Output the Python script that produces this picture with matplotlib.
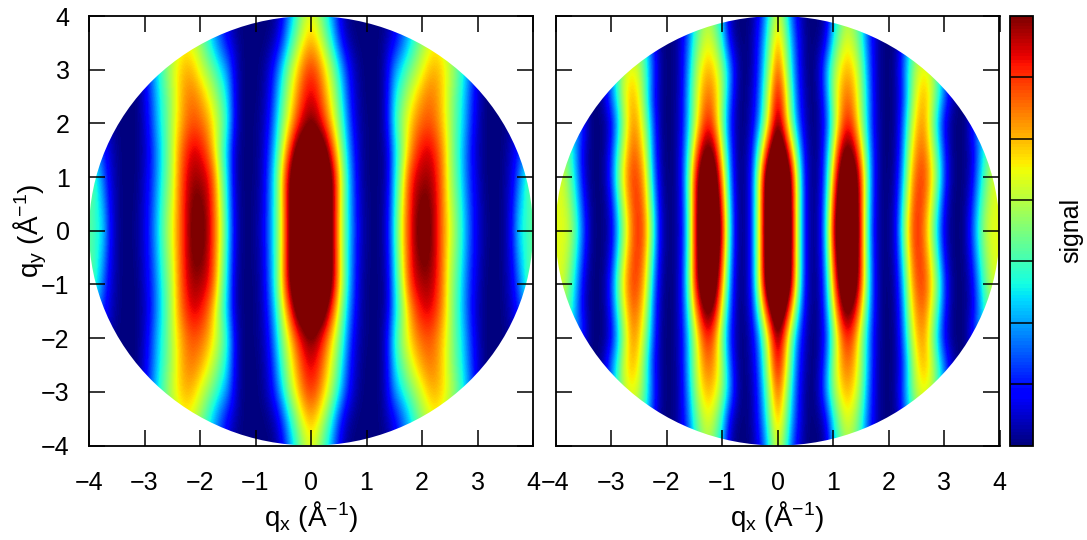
import numpy as np
import matplotlib
matplotlib.use("Agg")
import matplotlib.pyplot as plt
from matplotlib.patches import Circle

plt.rcParams["font.family"] = ["Liberation Sans", "DejaVu Sans"]
plt.rcParams["mathtext.fontset"] = "custom"
plt.rcParams["mathtext.rm"] = "Liberation Sans"
plt.rcParams["mathtext.default"] = "rm"
plt.rcParams["font.size"] = 18

# signal read off the upper right quadrant, qx = 0, 0.125 ... 4
# one row per qy = 0, 0.5 ... 4, the other quadrants are mirror images
left_y00 = [1.45,1.38,1.20,1.03,.72,.44,.24,.08,.02,0,.01,.10,.37,.63,.83,.98,1.05,1.03,.92,.78,.64,.50,.35,.20,.08,.03,0,0,.03,.14,.35,.41,.45]
left_y05 = [1.42,1.36,1.19,1.03,.73,.44,.23,.07,.02,0,.01,.08,.35,.60,.82,.96,1.02,1.01,.92,.78,.61,.48,.33,.18,.08,.02,0,0,.03,.12,.30,.40,.48]
left_y10 = [1.38,1.32,1.18,1.02,.74,.44,.22,.06,.01,0,.01,.06,.33,.55,.80,.92,.96,.97,.90,.77,.58,.45,.30,.16,.07,.01,0,0,.03,.09,.24,.40,.50]
left_y15 = [1.20,1.15,1.06,.86,.62,.38,.18,.05,.01,0,.01,.06,.30,.48,.68,.82,.90,.92,.86,.75,.58,.43,.29,.15,.05,.01,0,0,.02,.07,.16,.26,.35]
left_y20 = [1.00,.95,.84,.68,.52,.32,.13,.04,.01,0,.01,.12,.38,.53,.65,.75,.80,.82,.78,.69,.57,.44,.33,.18,.07,.01,0,0,.01,.04,.10,.16,.24]
left_y25 = [.92,.87,.75,.61,.45,.26,.10,.03,0,0,.01,.11,.34,.46,.57,.66,.74,.78,.76,.68,.56,.45,.34,.20,.08,.01,0,0,0,.01,.03,.06,.10]
left_y30 = [.85,.80,.68,.55,.38,.20,.08,.02,0,0,.01,.10,.26,.36,.46,.54,.62,.70,.72,.68,.60,.50,.38,.24,.10,.02,0,0,0,0,0,0,0]
left_y35 = [.72,.66,.53,.38,.20,.07,.02,0,0,0,.01,.05,.11,.20,.30,.42,.52,.60,.64,.60,.52,.42,.32,.20,.10,.02,0,0,0,0,0,0,0]
left_y40 = [.62,.55,.42,.28,.12,.03,0,0,0,0,0,.02,.08,.18,.28,.38,.46,.52,.55,.52,.44,.36,.26,.15,.05,0,0,0,0,0,0,0,0]

right_y00 = [1.50,1.35,.97,.50,.10,.01,.06,.40,.92,1.20,1.30,1.18,.87,.38,.08,.01,.01,.10,.45,.75,.88,.78,.58,.32,.08,.01,0,.03,.20,.42,.58,.63,.62]
right_y05 = [1.45,1.31,.96,.50,.10,.01,.05,.36,.85,1.15,1.26,1.16,.86,.40,.09,.01,.01,.08,.38,.70,.86,.82,.65,.40,.12,.01,0,.02,.15,.36,.53,.62,.62]
right_y10 = [1.40,1.27,.95,.49,.10,.01,.04,.30,.75,1.08,1.20,1.12,.85,.42,.10,.01,0,.06,.30,.65,.82,.85,.72,.50,.20,.03,0,.01,.09,.30,.48,.60,.62]
right_y15 = [1.20,1.03,.72,.35,.08,.01,.03,.25,.60,.93,1.05,.95,.70,.36,.10,.01,0,.04,.25,.58,.76,.80,.65,.42,.16,.02,0,.01,.08,.25,.42,.55,.60]
right_y20 = [1.00,.78,.47,.20,.05,0,.03,.18,.48,.74,.88,.78,.55,.30,.08,.01,0,.03,.22,.50,.70,.75,.58,.32,.10,.01,0,.01,.15,.30,.40,.50,.55]
right_y25 = [.92,.72,.42,.16,.04,0,.05,.25,.54,.72,.80,.72,.54,.30,.08,.01,0,.03,.16,.42,.64,.72,.64,.44,.25,.08,0,0,0,0,0,0,0]
right_y30 = [.82,.62,.35,.13,.02,0,.08,.30,.52,.66,.72,.66,.50,.26,.07,.01,0,.04,.20,.42,.58,.64,.60,.45,.25,.08,0,0,0,0,0,0,0]
right_y35 = [.72,.55,.30,.12,.02,0,.02,.12,.38,.54,.63,.56,.42,.22,.08,.01,0,.02,.15,.35,.50,.55,.50,.40,.20,.05,0,0,0,0,0,0,0]
right_y40 = [.62,.45,.22,.08,.01,0,0,.06,.30,.45,.55,.50,.38,.18,.05,0,0,.01,.10,.30,.45,.50,.45,.35,.15,.03,0,0,0,0,0,0,0]

left_rows = [left_y00, left_y05, left_y10, left_y15, left_y20, left_y25, left_y30, left_y35, left_y40]
right_rows = [right_y00, right_y05, right_y10, right_y15, right_y20, right_y25, right_y30, right_y35, right_y40]

tick_vals = [-4, -3, -2, -1, 0, 1, 2, 3, 4]
cb_ticks = [1/7, 2/7, 3/7, 4/7, 5/7, 6/7]
W, H = 1087, 540


def full_disk(rows):
    q = np.array(rows)
    q = np.hstack([q[:, :0:-1], q])
    return np.vstack([q[:0:-1], q])


def make_axes(x0, x1, y0, y1):
    return fig.add_axes([x0/W, 1 - y1/H, (x1 - x0)/W, (y1 - y0)/H])


fig = plt.figure(figsize=(W/100, H/100), dpi=100)
ax1 = make_axes(89, 533, 16, 445.5)
ax2 = make_axes(555.5, 999.5, 16, 445.5)
cax = make_axes(1010, 1033, 16, 445.5)
cmap = plt.get_cmap("jet", 128)

for ax, rows in [(ax1, left_rows), (ax2, right_rows)]:
    im = ax.imshow(full_disk(rows), cmap=cmap, vmin=0, vmax=1, origin="lower", aspect="auto",
                   extent=[-4.0625, 4.0625, -4.25, 4.25], interpolation="bicubic")
    im.set_clip_path(Circle((0, 0), 4, transform=ax.transData))
    ax.set_xlim(-4, 4)
    ax.set_ylim(-4, 4)
    ax.set_xticks(tick_vals)
    ax.set_yticks(tick_vals)
    ax.tick_params(direction="in", top=True, right=True, length=11.5, width=1.1, pad=14)
    ax.tick_params(axis="x", pad=18)
    ax.set_xlabel(r"q$_{x}$ (Å$^{-1}$)", fontsize=20, labelpad=3)
    for s in ax.spines.values():
        s.set_linewidth(1.3)

ax1.set_ylabel(r"q$_{y}$ (Å$^{-1}$)", fontsize=20, labelpad=-6)
ax2.set_yticklabels([])

cb = fig.colorbar(im, cax=cax, ticks=cb_ticks)
cb.ax.tick_params(direction="in", length=16.5, width=1.1, labelright=False)
cb.outline.set_linewidth(1.3)
cb.set_label("signal", labelpad=19)

fig.savefig("out.png", dpi=100)
